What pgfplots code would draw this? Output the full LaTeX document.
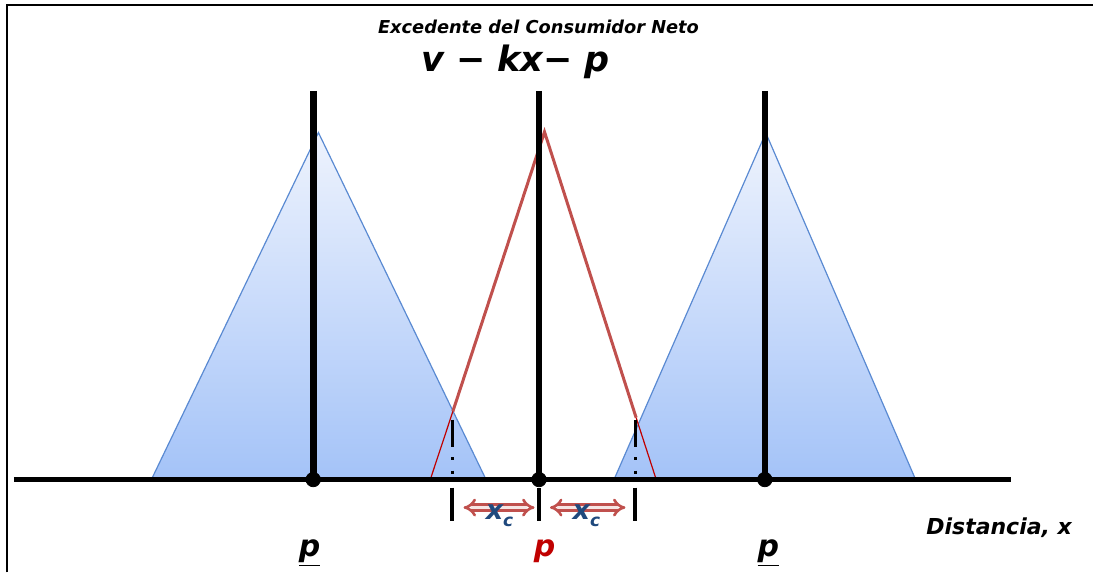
\documentclass[border=0pt]{standalone}
\usepackage{pgfplots}
\pgfplotsset{compat=1.18}
\usepackage{fontspec}
\setmainfont{DejaVu Sans}[
  BoldFont={DejaVu Sans Bold},
  ItalicFont={DejaVu Sans Oblique},
  BoldItalicFont={DejaVu Sans Bold Oblique}]
\usetikzlibrary{arrows.meta}

\definecolor{triblue}{HTML}{5A8AD2}
\definecolor{tritop}{HTML}{EEF3FD}
\definecolor{tribot}{HTML}{A4C3F8}
\definecolor{netred}{HTML}{C0504D}
\definecolor{thinred}{HTML}{C00000}
\definecolor{pred}{HTML}{C00000}
\definecolor{xcblue}{HTML}{1F497D}

\newcommand{\lbl}[1]{\fontsize{#1}{#1}\selectfont\bfseries\itshape}

\begin{document}
\begin{tikzpicture}
\begin{axis}[
  scale only axis, width=547pt, height=286.5pt,
  xmin=0, xmax=1094, ymin=0, ymax=573, y dir=reverse,
  axis lines=none, ticks=none, clip=false,
]
\path (rel axis cs:0,0) rectangle (rel axis cs:1,1);

% frame
\addplot[black, line width=1pt] coordinates {(7.5,573) (7.5,5.5) (1094,5.5)};

% neighbouring firms: surplus triangles with gradient fill
\addplot[draw=triblue, line width=0.6pt, top color=tritop, bottom color=tribot]
  coordinates {(152,479) (318.7,132.7) (486,479)} -- cycle;
\addplot[draw=triblue, line width=0.6pt, top color=tritop, bottom color=tribot]
  coordinates {(615,479) (766.5,133) (916,479)} -- cycle;

% central firm: net surplus v - kx - p
\addplot[netred, line width=1.5pt] coordinates {(453.3,411.7) (545,132) (636.7,418)};
\addplot[thinred, line width=0.6pt] coordinates {(453.3,411.7) (431,479)};
\addplot[thinred, line width=0.6pt] coordinates {(636.7,418) (656.5,479)};

% price posts
\addplot[black, line width=3.3pt] coordinates {(313.5,91) (313.5,480)};
\addplot[black, line width=3.3pt] coordinates {(539.5,91) (539.5,480)};
\addplot[black, line width=3.3pt] coordinates {(765.5,91) (765.5,480)};

% distance axis
\addplot[black, line width=2.5pt] coordinates {(14,480) (1011.5,480)};
\addplot[only marks, mark=*, mark size=3.6pt, black] coordinates {(313.5,480) (539.5,480) (765.5,480)};

% marginal consumer markers
\addplot[black, line width=1.6pt, dash pattern=on 13.5pt off 5.25pt on 1.5pt off 5.25pt on 1.5pt off 30pt]
  coordinates {(453.3,420) (453.3,476)};
\addplot[black, line width=1.6pt, dash pattern=on 13.5pt off 5.25pt on 1.5pt off 5.25pt on 1.5pt off 30pt]
  coordinates {(636,420) (636,476)};

% range ticks below the axis
\addplot[black, line width=2pt] coordinates {(452.7,488) (452.7,521.5)};
\addplot[black, line width=2pt] coordinates {(539.5,488) (539.5,521.5)};
\addplot[black, line width=2pt] coordinates {(635.7,488) (635.7,521.5)};

% x_c spans
\addplot[draw=netred, line width=1.3pt, double=white!85!netred, double distance=1.6pt, {Implies}-{Implies}]
  coordinates {(464,508) (535,508)};
\addplot[draw=netred, line width=1.3pt, double=white!85!netred, double distance=1.6pt, {Implies}-{Implies}]
  coordinates {(550.5,508) (626,508)};

% labels
\node at (axis cs:539,27) {\lbl{8.9}Excedente del Consumidor Neto};
\node[anchor=base] at (axis cs:516,72) {\lbl{17.5}v − kx− p};

\node[anchor=base, text=xcblue, inner sep=0pt] at (axis cs:500,520)
  {\lbl{13.5}x\raisebox{-3.5pt}{\lbl{8.5}c}};
\node[anchor=base, text=xcblue, inner sep=0pt] at (axis cs:587,520)
  {\lbl{13.5}x\raisebox{-3.5pt}{\lbl{8.5}c}};

\node[anchor=base, inner sep=0pt] at (axis cs:310,557) {\lbl{15}\underline{p}};
\node[anchor=base, inner sep=0pt, text=pred] at (axis cs:545,557) {\lbl{15}p};
\node[anchor=base, inner sep=0pt] at (axis cs:769,557) {\lbl{15}\underline{p}};

\node at (axis cs:1000,528) {\lbl{11}Distancia, x};
\end{axis}
\end{tikzpicture}
\end{document}
